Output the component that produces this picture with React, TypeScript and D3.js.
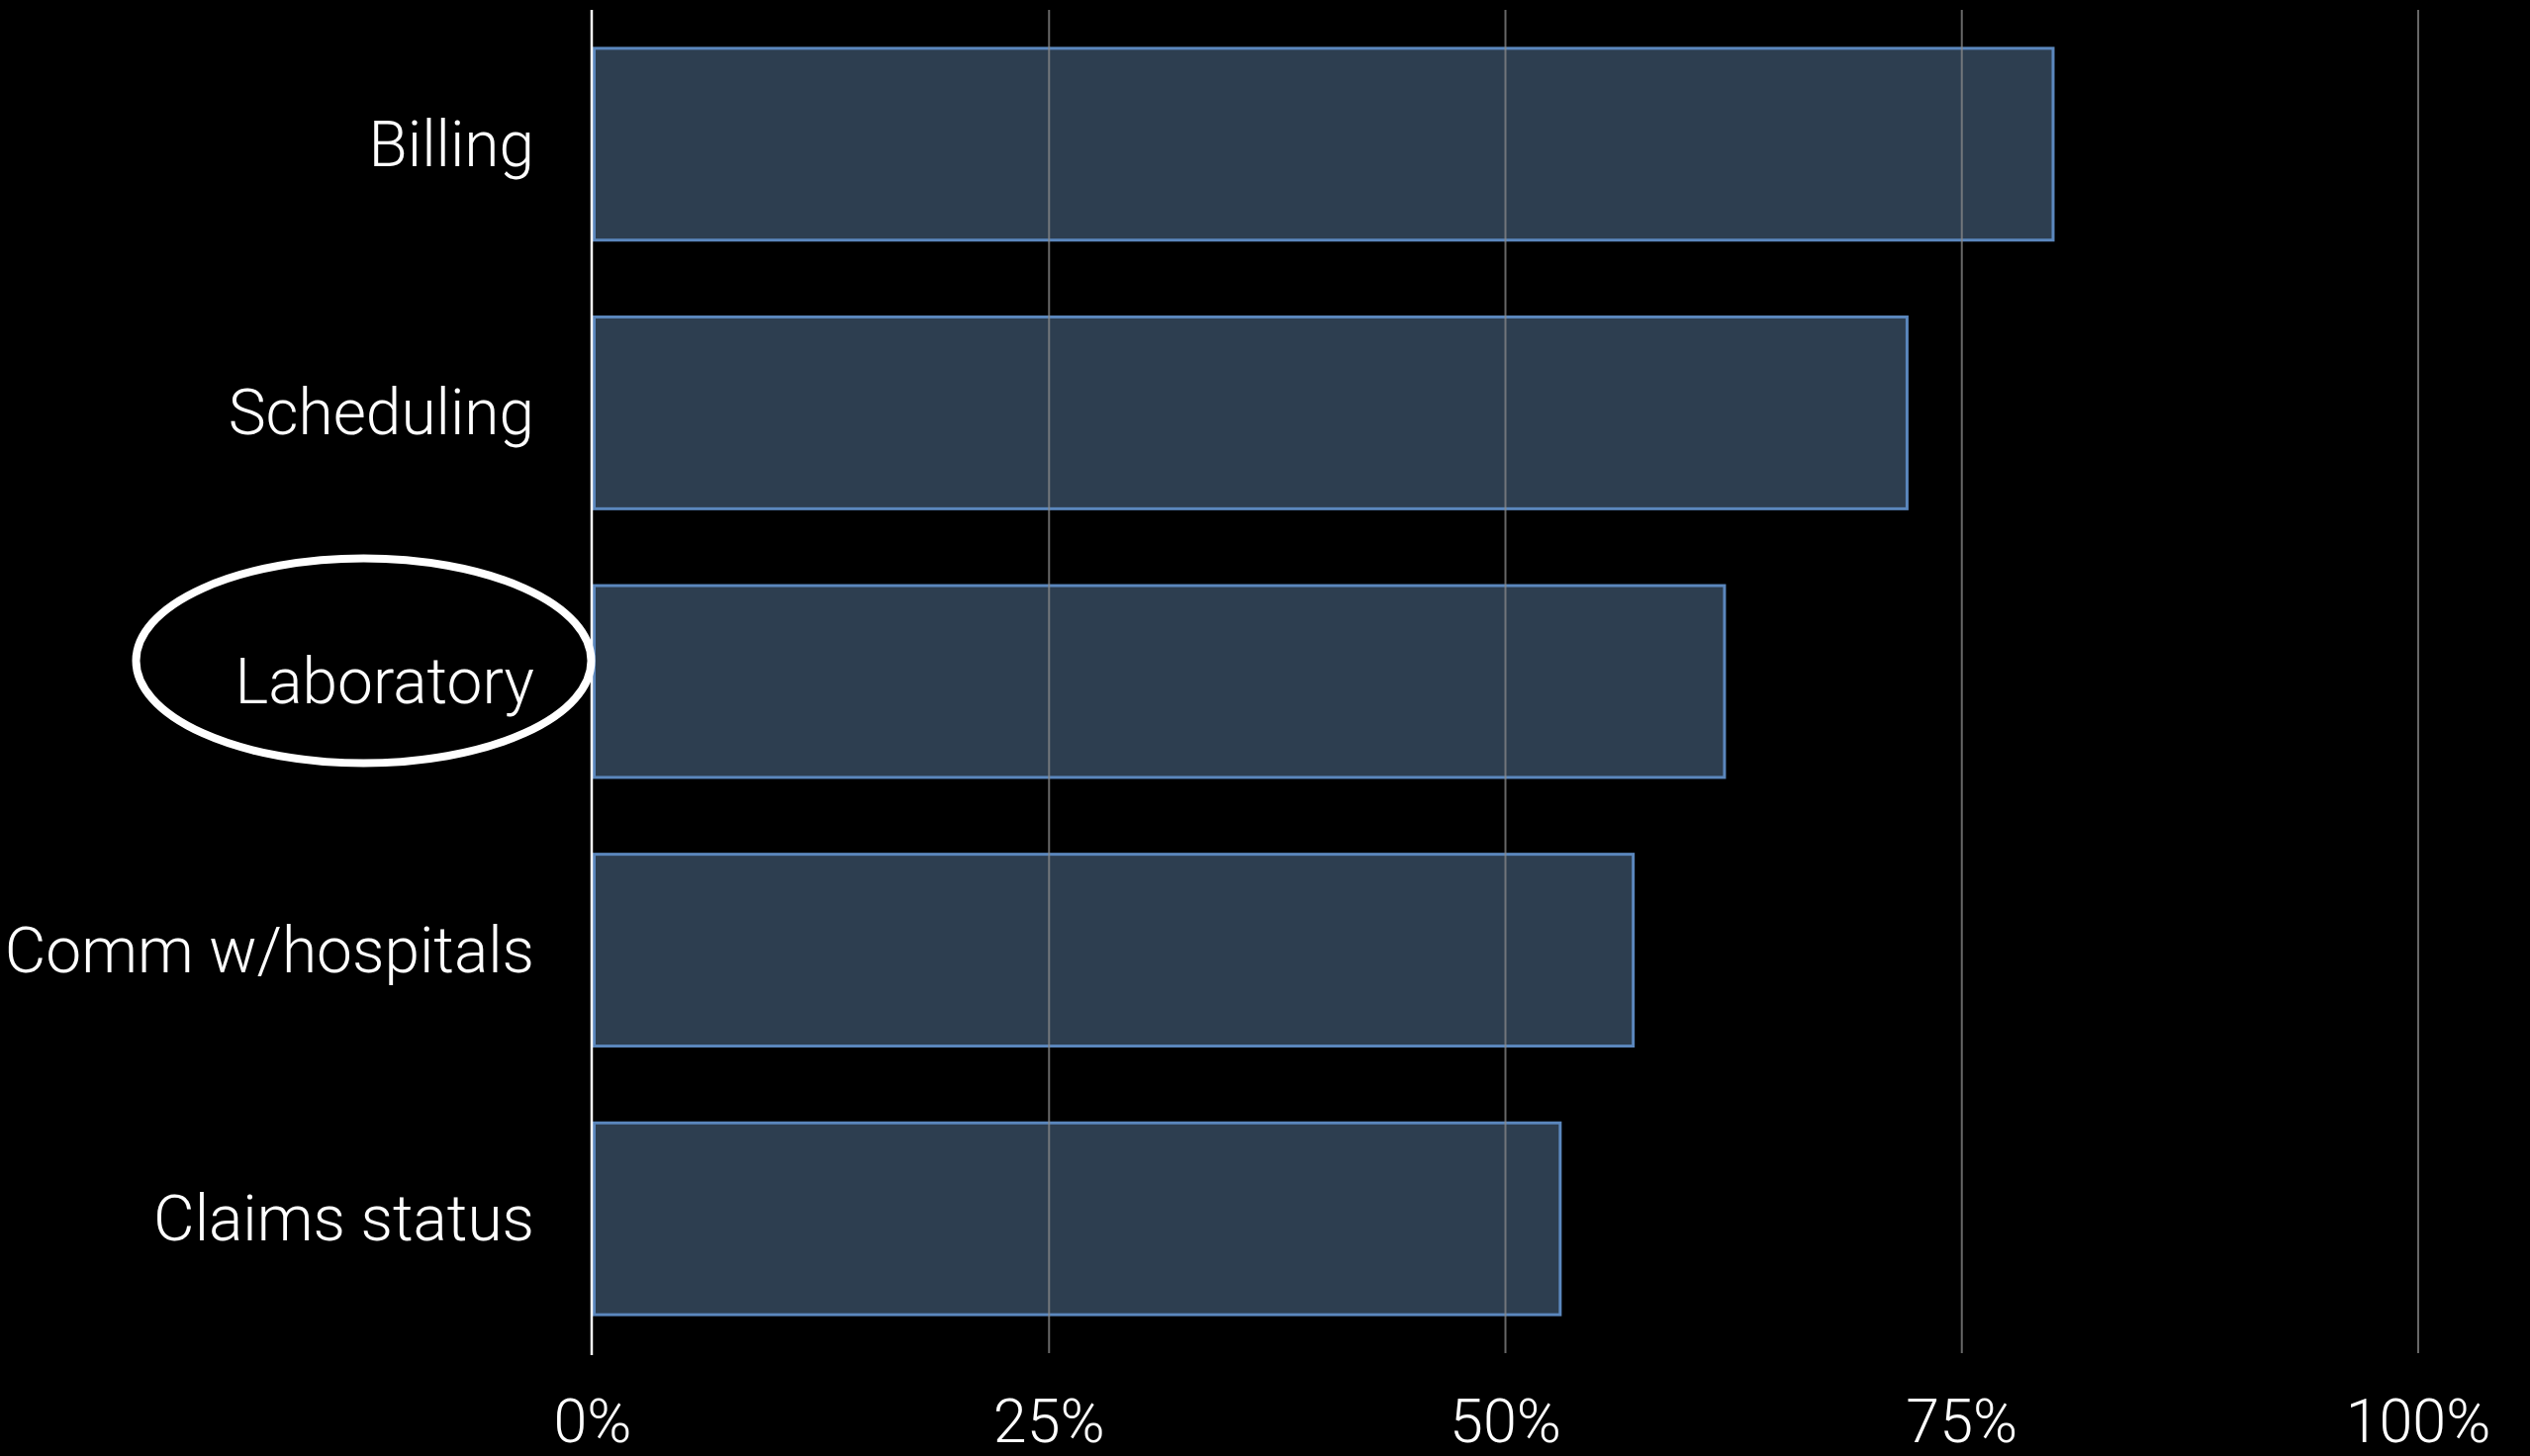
import React from "react";
import * as d3 from "d3";

const categories = ["Billing", "Scheduling", "Laboratory", "Comm w/hospitals", "Claims status"];
const values = [0.80, 0.72, 0.62, 0.57, 0.53];
const tickValues = [0, 0.25, 0.5, 0.75, 1];
const tickLabels = ["0%", "25%", "50%", "75%", "100%"];
const highlighted = "Laboratory";

const W = 2557;
const H = 1472;
const FONT = "Roboto, 'Helvetica Neue', Arial, sans-serif";

export default function App() {
  const x = d3.scaleLinear().domain([0, 1]).range([599, 2444]);
  const y = d3
    .scaleBand<string>()
    .domain(categories)
    .range([10, 1368])
    .paddingInner(0.275)
    .paddingOuter(0.1375);
  const bw = y.bandwidth();
  const labelX = 540;

  const hy = (y(highlighted) ?? 0) + bw / 2 - 21;

  return (
    <div style={{ position: "absolute", left: 0, top: 0, width: W, height: H, background: "#000" }}>
      <svg width={W} height={H} style={{ display: "block", background: "#000" }}>
        {values.map((v, i) => (
          <rect
            key={categories[i]}
            x={x(0) + 1.5}
            y={(y(categories[i]) ?? 0) + 1.5}
            width={x(v) - x(0) - 1.5}
            height={bw - 3}
            fill="#2d3e50"
            stroke="#5b87bd"
            strokeWidth={3}
          />
        ))}
        {tickValues.slice(1).map((t) => (
          <line
            key={t}
            x1={x(t)}
            x2={x(t)}
            y1={10}
            y2={1368}
            stroke="#8a8a8a"
            strokeOpacity={0.75}
            strokeWidth={2}
          />
        ))}
        <line x1={x(0) - 1} x2={x(0) - 1} y1={10} y2={1370} stroke="#fff" strokeWidth={2.5} />
        {tickValues.map((t, i) => (
          <text
            key={t}
            x={x(t)}
            y={1458}
            textAnchor="middle"
            fill="#fff"
            fontFamily={FONT}
            fontWeight={300}
            fontSize={61}
          >
            {tickLabels[i]}
          </text>
        ))}
        {categories.map((c) => (
          <text
            key={c}
            x={labelX}
            y={(y(c) ?? 0) + bw / 2 + 22}
            textAnchor="end"
            fill="#fff"
            fontFamily={FONT}
            fontWeight={300}
            fontSize={64}
          >
            {c}
          </text>
        ))}
        <ellipse
          cx={367.5}
          cy={hy}
          rx={230}
          ry={103.5}
          fill="none"
          stroke="#fff"
          strokeWidth={8}
        />
      </svg>
    </div>
  );
}
